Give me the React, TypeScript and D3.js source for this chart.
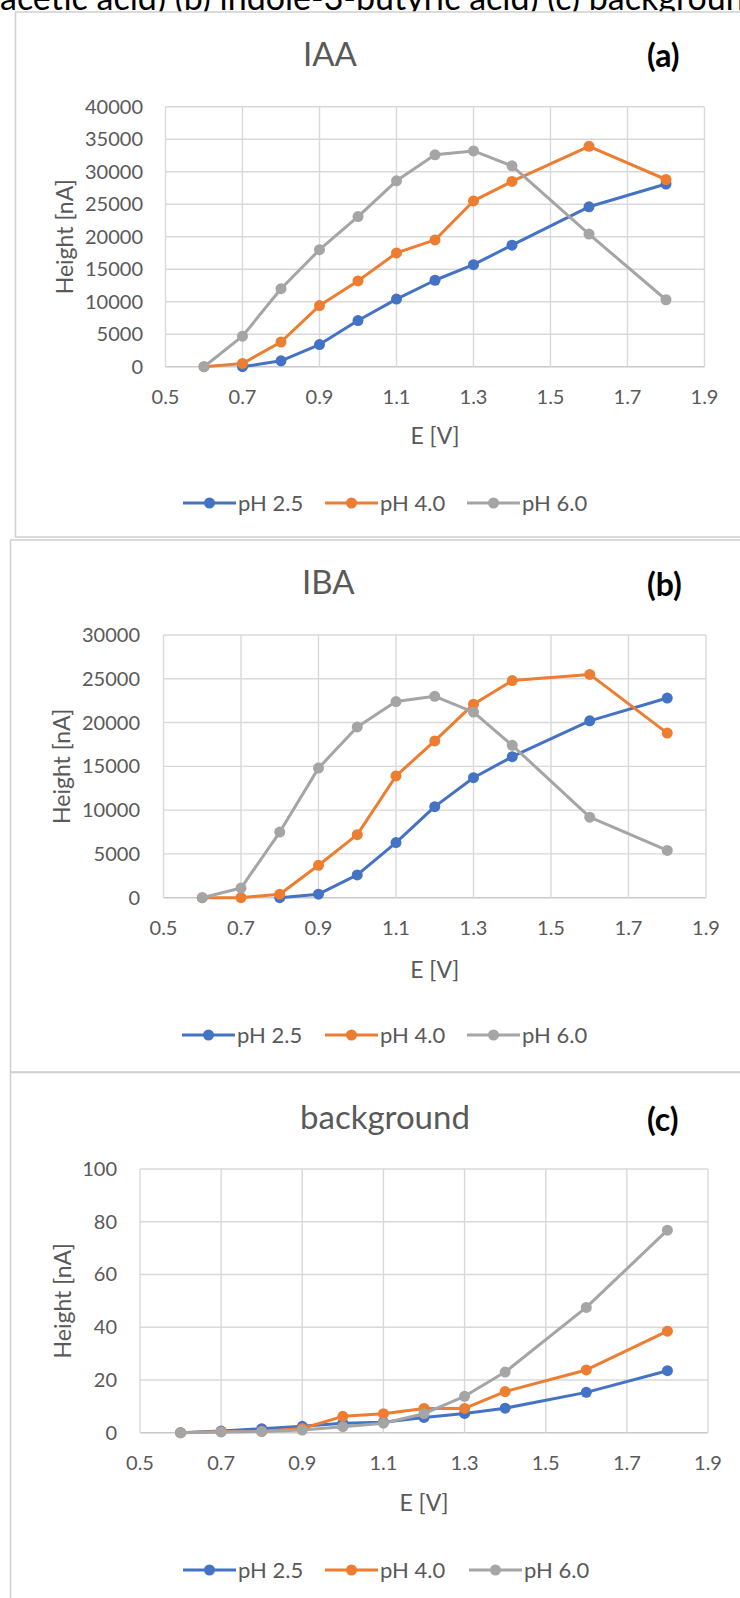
import React from 'react';
import * as d3 from 'd3';

// ---- data ----
const E_VALUES = [0.6, 0.7, 0.8, 0.9, 1.0, 1.1, 1.2, 1.3, 1.4, 1.6, 1.8];
const X_TICKS = [0.5, 0.7, 0.9, 1.1, 1.3, 1.5, 1.7, 1.9];
const SERIES_NAMES = ['pH 2.5', 'pH 4.0', 'pH 6.0'];
const SERIES_COLORS = ['#4472C4', '#ED7D31', '#A5A5A5'];

const IAA_PH25 = [null, 0, 900, 3400, 7100, 10400, 13300, 15700, 18700, 24600, 28100];
const IAA_PH40 = [0, 500, 3800, 9400, 13200, 17500, 19500, 25500, 28500, 33900, 28800];
const IAA_PH60 = [0, 4700, 12000, 18000, 23100, 28600, 32600, 33200, 30900, 20400, 10300];
const IAA_Y_TICKS = [0, 5000, 10000, 15000, 20000, 25000, 30000, 35000, 40000];

const IBA_PH25 = [null, null, 0, 400, 2600, 6300, 10400, 13700, 16100, 20200, 22800];
const IBA_PH40 = [0, 0, 400, 3700, 7200, 13900, 17900, 22100, 24800, 25500, 18800];
const IBA_PH60 = [0, 1100, 7500, 14800, 19500, 22400, 23000, 21200, 17400, 9200, 5400];
const IBA_Y_TICKS = [0, 5000, 10000, 15000, 20000, 25000, 30000];

const BG_PH25 = [0, 0.6, 1.5, 2.4, 3.6, 4.0, 5.8, 7.3, 9.3, 15.3, 23.5];
const BG_PH40 = [0, 0.4, 0.5, 1.6, 6.2, 7.2, 9.2, 9.2, 15.6, 23.8, 38.5];
const BG_PH60 = [0, 0.3, 0.5, 1.0, 2.3, 3.6, 7.2, 13.8, 23.0, 47.5, 76.8];
const BG_Y_TICKS = [0, 20, 40, 60, 80, 100];

const CAPTION = 'acetic acid) (b) indole-3-butyric acid) (c) background';

const FONT = 'Lato, "Open Sans", sans-serif';
const GRID = '#d9d9d9';
const TXT = '#595959';

type PanelProps = {
  box: { x: number; y: number; w: number; h: number };
  title: string;
  label: string;
  titleX: number;
  titleBaseline: number;
  labelBaseline: number;
  plot: { left: number; right: number; top: number; bottom: number };
  yTicks: number[];
  yTickRight: number;
  yTitleX: number;
  xTickBaseline: number;
  xTitleBaseline: number;
  legendY: number;
  legendStarts: number[];
  series: (number | null)[][];
};

function Panel(p: PanelProps) {
  const x = d3.scaleLinear().domain([0.5, 1.9]).range([p.plot.left, p.plot.right]);
  const y = d3
    .scaleLinear()
    .domain([0, p.yTicks[p.yTicks.length - 1]])
    .range([p.plot.bottom, p.plot.top]);
  const line = d3
    .line<[number, number | null]>()
    .defined((d) => d[1] !== null)
    .x((d) => x(d[0]))
    .y((d) => y(d[1] as number));
  const cx = (p.plot.left + p.plot.right) / 2;
  const cy = (p.plot.top + p.plot.bottom) / 2;
  return (
    <g>
      <rect x={p.box.x} y={p.box.y} width={p.box.w} height={p.box.h} fill="#fff" stroke="#d0d0d0" strokeWidth={1.5} />
      <text x={p.titleX} y={p.titleBaseline} fontFamily={FONT} fontWeight={400} fontSize={33} fill={TXT}>
        {p.title}
      </text>
      <text x={647} y={p.labelBaseline} fontFamily={FONT} fontWeight={700} fontSize={32} fill="#000">
        {p.label}
      </text>
      {/* grid */}
      {p.yTicks.map((t) => (
        <line key={'gy' + t} x1={p.plot.left} x2={p.plot.right} y1={y(t)} y2={y(t)} stroke={t === 0 ? '#c8c8c8' : GRID} strokeWidth={1.4} />
      ))}
      {X_TICKS.map((t) => (
        <line key={'gx' + t} x1={x(t)} x2={x(t)} y1={p.plot.top} y2={p.plot.bottom} stroke={GRID} strokeWidth={1.4} />
      ))}
      {/* y tick labels */}
      {p.yTicks.map((t) => (
        <text key={'ty' + t} x={p.yTickRight} y={y(t) + 7} textAnchor="end" fontFamily={FONT} fontSize={20} fill={TXT}>
          {t}
        </text>
      ))}
      {X_TICKS.map((t) => (
        <text key={'tx' + t} x={x(t)} y={p.xTickBaseline} textAnchor="middle" fontFamily={FONT} fontSize={20} fill={TXT}>
          {t.toFixed(1)}
        </text>
      ))}
      <text
        transform={`translate(${p.yTitleX},${cy}) rotate(-90)`}
        textAnchor="middle"
        dy={8}
        fontFamily={FONT}
        fontSize={23}
        fill={TXT}
      >
        Height [nA]
      </text>
      <text x={cx} y={p.xTitleBaseline} textAnchor="middle" fontFamily={FONT} fontSize={23} fill={TXT}>
        E [V]
      </text>
      {/* series */}
      {p.series.map((vals, i) => {
        const pts: [number, number | null][] = E_VALUES.map((e, k) => [e, vals[k]]);
        return (
          <g key={'s' + i}>
            <path d={line(pts) || ''} fill="none" stroke={SERIES_COLORS[i]} strokeWidth={3} strokeLinejoin="round" />
            {pts
              .filter((d) => d[1] !== null)
              .map((d, k) => (
                <circle key={k} cx={x(d[0])} cy={y(d[1] as number)} r={5.5} fill={SERIES_COLORS[i]} />
              ))}
          </g>
        );
      })}
      {/* legend */}
      {SERIES_NAMES.map((n, i) => {
        const s = p.legendStarts[i];
        return (
          <g key={'lg' + i}>
            <line x1={s} x2={s + 53} y1={p.legendY} y2={p.legendY} stroke={SERIES_COLORS[i]} strokeWidth={3} />
            <circle cx={s + 26.5} cy={p.legendY} r={5.5} fill={SERIES_COLORS[i]} />
            <text x={s + 55} y={p.legendY + 8} fontFamily={FONT} fontSize={22} fill={TXT}>
              {n}
            </text>
          </g>
        );
      })}
    </g>
  );
}

export default function App() {
  return (
    <svg
      width={740}
      height={1598}
      viewBox="0 0 740 1598"
      style={{ position: 'absolute', left: 0, top: 0, background: '#fff' }}
    >
      <rect x={0} y={0} width={740} height={1598} fill="#fff" />
      <text x={0} y={10} fontFamily={FONT} fontSize={34} fill="#000">
        {CAPTION}
      </text>
      <Panel
        box={{ x: 15.5, y: 12, w: 740, h: 525 }}
        title="IAA"
        label="(a)"
        titleX={303}
        titleBaseline={66}
        labelBaseline={67}
        plot={{ left: 165.5, right: 704.5, top: 106.7, bottom: 366.7 }}
        yTicks={IAA_Y_TICKS}
        yTickRight={143}
        yTitleX={65}
        xTickBaseline={404}
        xTitleBaseline={444}
        legendY={503}
        legendStarts={[183, 325, 467]}
        series={[IAA_PH25, IAA_PH40, IAA_PH60]}
      />
      <Panel
        box={{ x: 10.5, y: 540, w: 740, h: 532 }}
        title="IBA"
        label="(b)"
        titleX={302}
        titleBaseline={594}
        labelBaseline={596}
        plot={{ left: 163.5, right: 706, top: 635, bottom: 897.7 }}
        yTicks={IBA_Y_TICKS}
        yTickRight={140}
        yTitleX={62}
        xTickBaseline={935}
        xTitleBaseline={978}
        legendY={1035}
        legendStarts={[182, 325, 467]}
        series={[IBA_PH25, IBA_PH40, IBA_PH60]}
      />
      <Panel
        box={{ x: 10.5, y: 1072.5, w: 740, h: 540 }}
        title="background"
        label="(c)"
        titleX={300}
        titleBaseline={1129}
        labelBaseline={1131}
        plot={{ left: 140, right: 708, top: 1169, bottom: 1432.7 }}
        yTicks={BG_Y_TICKS}
        yTickRight={117}
        yTitleX={63}
        xTickBaseline={1470}
        xTitleBaseline={1511}
        legendY={1570}
        legendStarts={[183, 325, 469]}
        series={[BG_PH25, BG_PH40, BG_PH60]}
      />
    </svg>
  );
}
